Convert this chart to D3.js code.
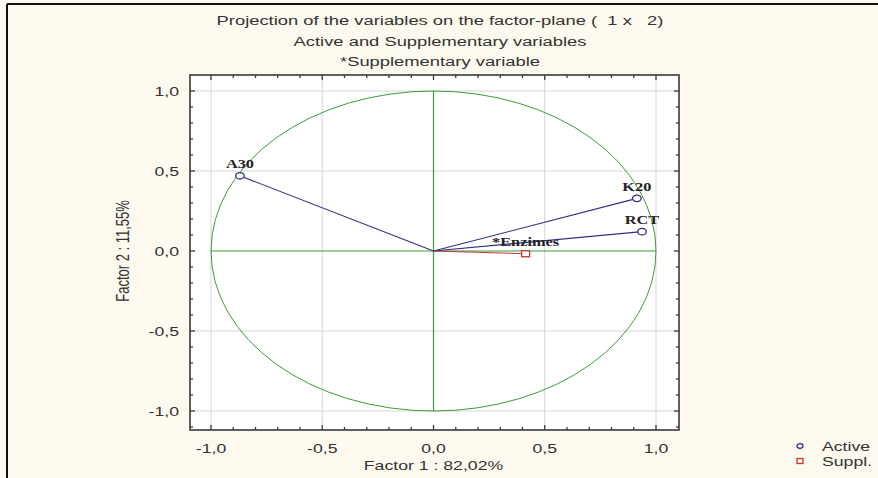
<!DOCTYPE html>
<html>
<head>
<meta charset="utf-8">
<script src="https://cdn.jsdelivr.net/npm/d3@7"></script>
<style>
  html, body { margin: 0; padding: 0; background: #fdf9ee; }
  svg { display: block; }
  text { white-space: pre; }
  .tick-label, .axis-title, .title, .legend-text { font-family: "Liberation Sans", Arial, sans-serif; fill: #333; }
  .var-label { font-family: "Liberation Serif", "Times New Roman", serif; font-weight: bold; font-size: 12px; fill: #222; }
</style>
</head>
<body>
<div id="chart"></div>
<script>
// ---- data ----
const titleLines = [
  "Projection of the variables on the factor-plane (  1 x   2)",
  "Active and Supplementary variables",
  "*Supplementary variable"
];
const varNames  = ["A30", "K20", "RCT", "*Enzimes"];
const varF1     = [-0.87, 0.914, 0.937, 0.414];
const varF2     = [0.47, 0.329, 0.121, -0.017];
const varType   = ["Active", "Active", "Active", "Suppl."];
const tickVals  = [-1.0, -0.5, 0.0, 0.5, 1.0];
const tickLabels = ["-1,0", "-0,5", "0,0", "0,5", "1,0"];
const xTitle = "Factor 1 : 82,02%";
const yTitle = "Factor 2 : 11,55%";
const legendItems = ["Active", "Suppl."];

const fullW = 878, fullH = 478;
const frame = { left: 190, right: 679, top: 75, bottom: 430 };
const stretch = 1.36;   // the original picture is widened horizontally

const svg = d3.select("#chart").append("svg")
  .attr("width", fullW).attr("height", fullH);

// text placed at (px,py), widened along the screen x axis
function addText(parent, px, py, str, cls, size, anchor, rotate) {
  return parent.append("text")
    .attr("class", cls)
    .attr("transform", `translate(${px},${py}) scale(${stretch},1)` + (rotate ? ` rotate(${rotate})` : ""))
    .attr("text-anchor", anchor || "start")
    .attr("font-size", size)
    .text(str);
}

// outer border (top + left)
svg.append("line").attr("x1", 7).attr("x2", fullW).attr("y1", 4).attr("y2", 4)
  .attr("stroke", "#111").attr("stroke-width", 2);
svg.append("line").attr("x1", 7).attr("x2", 7).attr("y1", 4).attr("y2", fullH)
  .attr("stroke", "#111").attr("stroke-width", 2);

// scales
const x = d3.scaleLinear().domain([-1, 1]).range([211, 656]);
const y = d3.scaleLinear().domain([-1, 1]).range([411, 91]);

// plot area
svg.append("rect")
  .attr("x", frame.left).attr("y", frame.top)
  .attr("width", frame.right - frame.left).attr("height", frame.bottom - frame.top)
  .attr("fill", "#fff");

// grid
const gridVals = tickVals.filter(d => d !== 0);
svg.append("g").selectAll("line").data(gridVals).join("line")
  .attr("x1", d => x(d)).attr("x2", d => x(d))
  .attr("y1", frame.top).attr("y2", frame.bottom)
  .attr("stroke", "#d6d6d6").attr("stroke-width", 1);
svg.append("g").selectAll("line").data(gridVals).join("line")
  .attr("y1", d => y(d)).attr("y2", d => y(d))
  .attr("x1", frame.left).attr("x2", frame.right)
  .attr("stroke", "#d6d6d6").attr("stroke-width", 1);

// unit circle and axes through origin
const green = "#3c9a3c";
svg.append("ellipse")
  .attr("cx", x(0)).attr("cy", y(0))
  .attr("rx", x(1) - x(0)).attr("ry", y(0) - y(1))
  .attr("fill", "none").attr("stroke", green).attr("stroke-width", 1);
svg.append("line").attr("x1", x(0)).attr("x2", x(0))
  .attr("y1", y(1)).attr("y2", y(-1)).attr("stroke", green).attr("stroke-width", 1.2);
svg.append("line").attr("x1", x(-1)).attr("x2", x(1))
  .attr("y1", y(0)).attr("y2", y(0)).attr("stroke", green).attr("stroke-width", 1.2);

// variable vectors
const vars = varNames.map((name, i) => ({ name, f1: varF1[i], f2: varF2[i], type: varType[i] }));
const navy = "#2e2e86", red = "#c0352b";

svg.append("g").selectAll("line").data(vars).join("line")
  .attr("x1", x(0)).attr("y1", y(0))
  .attr("x2", d => x(d.f1)).attr("y2", d => y(d.f2))
  .attr("stroke", d => d.type === "Active" ? navy : red)
  .attr("stroke-width", 1.1);

const active = vars.filter(d => d.type === "Active");
const suppl  = vars.filter(d => d.type !== "Active");

svg.append("g").selectAll("ellipse").data(active).join("ellipse")
  .attr("cx", d => x(d.f1)).attr("cy", d => y(d.f2))
  .attr("rx", 4.3).attr("ry", 3.2)
  .attr("fill", "#fff").attr("stroke", navy).attr("stroke-width", 1.3);

svg.append("g").selectAll("rect").data(suppl).join("rect")
  .attr("x", d => x(d.f1) - 4).attr("y", d => y(d.f2) - 3)
  .attr("width", 8).attr("height", 6)
  .attr("fill", "#fff").attr("stroke", red).attr("stroke-width", 1.3);

const labelG = svg.append("g");
vars.forEach(d => addText(labelG, x(d.f1), y(d.f2) - 7.5, d.name, "var-label", 12, "middle"));

// frame with inward ticks
svg.append("rect")
  .attr("x", frame.left).attr("y", frame.top)
  .attr("width", frame.right - frame.left).attr("height", frame.bottom - frame.top)
  .attr("fill", "none").attr("stroke", "#3a3a3a").attr("stroke-width", 1.6);

const minorX = d3.range(-11, 12).map(d => d / 10).filter(v => x(v) > frame.left + 1 && x(v) < frame.right - 1);
const minorY = d3.range(-11, 12).map(d => d / 10).filter(v => y(v) > frame.top + 1 && y(v) < frame.bottom - 1);
const isMajor = v => Math.abs(v * 2 - Math.round(v * 2)) < 1e-6;
const tickG = svg.append("g").attr("stroke", "#3a3a3a").attr("stroke-width", 1.3);
minorX.forEach(v => {
  const len = isMajor(v) ? 5 : 3;
  tickG.append("line").attr("x1", x(v)).attr("x2", x(v)).attr("y1", frame.bottom).attr("y2", frame.bottom - len);
  tickG.append("line").attr("x1", x(v)).attr("x2", x(v)).attr("y1", frame.top).attr("y2", frame.top + len);
});
minorY.forEach(v => {
  const len = isMajor(v) ? 5 : 3;
  tickG.append("line").attr("y1", y(v)).attr("y2", y(v)).attr("x1", frame.left).attr("x2", frame.left + len);
  tickG.append("line").attr("y1", y(v)).attr("y2", y(v)).attr("x1", frame.right).attr("x2", frame.right - len);
});

// tick labels
const tickTextG = svg.append("g");
tickVals.forEach((v, i) => {
  addText(tickTextG, x(v), frame.bottom + 23, tickLabels[i], "tick-label", 13, "middle");
  addText(tickTextG, frame.left - 11, y(v) + 5, tickLabels[i], "tick-label", 13, "end");
});

// axis titles
addText(svg, x(0), 470, xTitle, "axis-title", 13, "middle");
addText(svg, 129, y(0), yTitle, "axis-title", 13, "middle", -90);

// title
titleLines.forEach((t, i) => addText(svg, 440, 25 + i * 20.5, t, "title", 13.5, "middle"));

// legend
const lg = svg.append("g").attr("transform", "translate(800,446)");
legendItems.forEach((name, i) => {
  const row = lg.append("g").attr("transform", `translate(0,${i * 15})`);
  if (i === 0) {
    row.append("ellipse").attr("cx", 0).attr("cy", 0).attr("rx", 3).attr("ry", 2.3)
      .attr("fill", "none").attr("stroke", navy).attr("stroke-width", 1.3);
  } else {
    row.append("rect").attr("x", -3).attr("y", -2.5).attr("width", 6).attr("height", 5)
      .attr("fill", "none").attr("stroke", red).attr("stroke-width", 1.3);
  }
  addText(row, 22, 5, name, "legend-text", 13);
});
</script>
</body>
</html>
